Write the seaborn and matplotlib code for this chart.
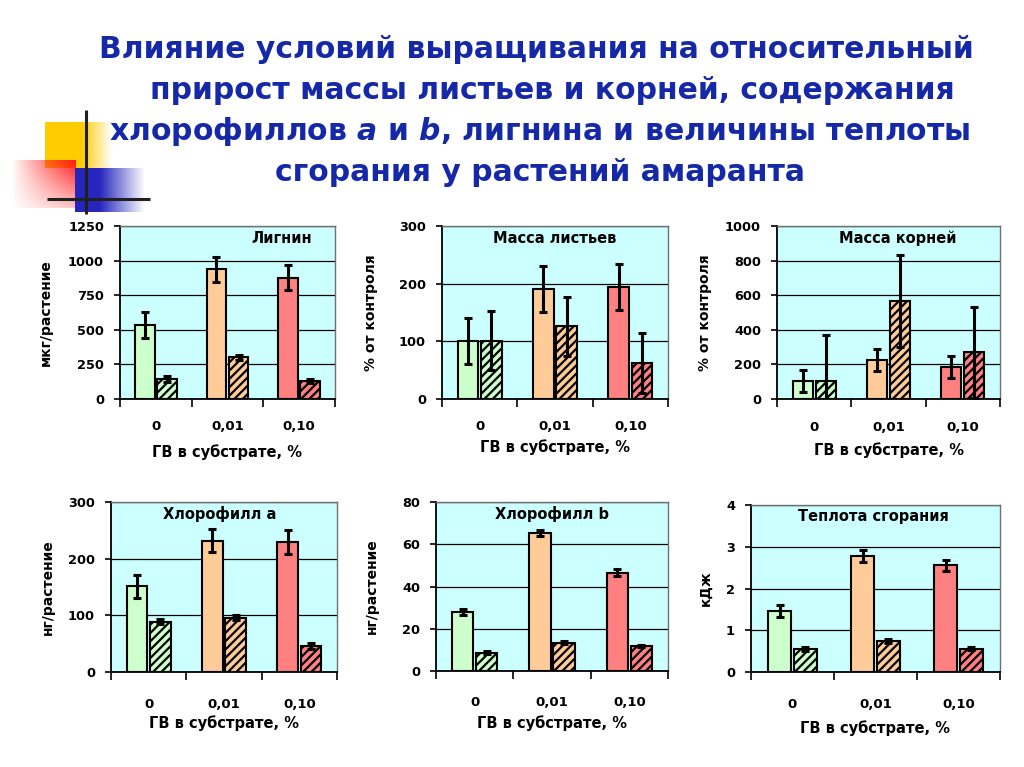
import numpy as np
import pandas as pd
import matplotlib
matplotlib.use('Agg')
import matplotlib.pyplot as plt
import seaborn as sns

# ---------------- data ----------------
categories = ['0', '0,01', '0,10']
xlabel = 'ГВ в субстрате, %'

lignin_solid = [534, 937, 875]
lignin_solid_err = [92, 90, 90]
lignin_hatch = [144, 303, 130]
lignin_hatch_err = [20, 18, 18]

leaves_solid = [101, 191, 194]
leaves_solid_err = [40, 40, 40]
leaves_hatch = [101, 126, 62]
leaves_hatch_err = [51, 51, 52]

roots_solid = [104, 225, 183]
roots_solid_err = [62, 62, 63]
roots_hatch = [104, 567, 269]
roots_hatch_err = [265, 267, 262]

chla_solid = [151, 232, 229]
chla_solid_err = [20, 20, 21]
chla_hatch = [89, 96, 46]
chla_hatch_err = [5, 5, 5]

chlb_solid = [27.9, 65.4, 46.6]
chlb_solid_err = [1.6, 1.3, 1.5]
chlb_hatch = [8.7, 13.3, 11.9]
chlb_hatch_err = [0.7, 0.7, 0.6]

heat_solid = [1.46, 2.78, 2.56]
heat_solid_err = [0.14, 0.14, 0.13]
heat_hatch = [0.56, 0.75, 0.56]
heat_hatch_err = [0.05, 0.05, 0.04]

bar_colors = ['#CCFFCC', '#FFCC99', '#FF8080']

title_lines = ['Влияние условий выращивания на относительный',
               'прирост массы листьев и корней, содержания',
               r'хлорофиллов $\mathbfit{a}$ и $\mathbfit{b}$, лигнина и величины теплоты',
               'сгорания у растений амаранта']

panels = [
    dict(title='Лигнин', ylabel='мкг/растение', solid=lignin_solid, solid_err=lignin_solid_err,
         hatch=lignin_hatch, hatch_err=lignin_hatch_err, ymax=1250, yticks=[0, 250, 500, 750, 1000, 1250],
         box=(120, 335, 226, 399), title_x=0.75, ylab_px=53, tick_pad=15, xlab_px=452),
    dict(title='Масса листьев', ylabel='% от контроля', solid=leaves_solid, solid_err=leaves_solid_err,
         hatch=leaves_hatch, hatch_err=leaves_hatch_err, ymax=300, yticks=[0, 100, 200, 300],
         box=(442, 668, 226, 399), title_x=0.5, ylab_px=378, tick_pad=15, xlab_px=447),
    dict(title='Масса корней', ylabel='% от контроля', solid=roots_solid, solid_err=roots_solid_err,
         hatch=roots_hatch, hatch_err=roots_hatch_err, ymax=1000, yticks=[0, 200, 400, 600, 800, 1000],
         box=(777, 1000, 226, 399), title_x=0.54, ylab_px=712, tick_pad=16, xlab_px=450),
    dict(title='Хлорофилл а', ylabel='нг/растение', solid=chla_solid, solid_err=chla_solid_err,
         hatch=chla_hatch, hatch_err=chla_hatch_err, ymax=300, yticks=[0, 100, 200, 300],
         box=(111, 337, 502, 672), title_x=0.48, ylab_px=55, tick_pad=19, xlab_px=723),
    dict(title='Хлорофилл b', ylabel='нг/растение', solid=chlb_solid, solid_err=chlb_solid_err,
         hatch=chlb_hatch, hatch_err=chlb_hatch_err, ymax=80, yticks=[0, 20, 40, 60, 80],
         box=(436, 668, 502, 671), title_x=0.5, ylab_px=379, tick_pad=18, xlab_px=723),
    dict(title='Теплота сгорания', ylabel='кДж', solid=heat_solid, solid_err=heat_solid_err,
         hatch=heat_hatch, hatch_err=heat_hatch_err, ymax=4, yticks=[0, 1, 2, 3, 4],
         box=(751, 1000, 505, 672), title_x=0.49, ylab_px=713, tick_pad=19, xlab_px=728),
]

# ---------------- style ----------------
sns.set_theme(style='white')
plt.rcParams['font.family'] = ['DejaVu Sans']
plt.rcParams['font.weight'] = 'bold'
plt.rcParams['axes.labelweight'] = 'bold'
plt.rcParams['text.color'] = 'black'
plt.rcParams['axes.labelcolor'] = 'black'
plt.rcParams['xtick.color'] = 'black'
plt.rcParams['ytick.color'] = 'black'
plt.rcParams['hatch.linewidth'] = 1.6
plt.rcParams['mathtext.fontset'] = 'custom'
plt.rcParams['mathtext.rm'] = 'DejaVu Sans:bold'
plt.rcParams['mathtext.bf'] = 'DejaVu Sans:bold'
plt.rcParams['mathtext.bfit'] = 'DejaVu Sans:italic:bold'

W, H = 1024, 767
fig = plt.figure(figsize=(W / 100, H / 100), dpi=100)
fig.patch.set_facecolor('white')

# ---------------- decoration (top-left) ----------------
deco = fig.add_axes([0, 0, 1, 1], zorder=-5)
deco.set_axis_off()


def grad_rect(ax, x0, x1, y0, y1, rgb, alpha_fn):
    nx, ny = 120, 80
    xs = np.linspace(x0, x1, nx)
    ys = np.linspace(y0, y1, ny)
    X, Y = np.meshgrid(xs, ys)
    A = np.clip(alpha_fn(X, Y), 0, 1)
    img = np.zeros((ny, nx, 4))
    img[..., 0], img[..., 1], img[..., 2] = rgb
    img[..., 3] = A
    ax.imshow(img, extent=(x0, x1, y1, y0), origin='upper', aspect='auto', interpolation='bilinear')


grad_rect(deco, 45, 112, 122, 168, (1.0, 0.8, 0.0), lambda X, Y: (112 - X) / (112 - 82))
grad_rect(deco, 12, 76, 160, 208, (1.0, 0.1, 0.1),
          lambda X, Y: ((X - 12) / 64) ** 0.9 * (1 - 0.75 * (Y - 160) / 48))
grad_rect(deco, 75, 145, 168, 212, (0.15, 0.15, 0.75), lambda X, Y: (145 - X) / (145 - 100))
deco.plot([86, 86], [110, 214], color='#202020', lw=2.2, solid_capstyle='butt')
deco.plot([47, 150], [199, 199], color='#202020', lw=2.2, solid_capstyle='butt')
deco.set_xlim(0, W)
deco.set_ylim(H, 0)

# ---------------- title ----------------
title_centers = [536, 552, 540, 540]
title_baselines = [58, 99, 140, 181]
for line, cx, by in zip(title_lines, title_centers, title_baselines):
    fig.text(cx / W, 1 - by / H, line, ha='center', va='baseline', fontsize=21.5,
             fontweight='bold', color='#1428A8')

# ---------------- panels ----------------
for p in panels:
    x0, x1, y0, y1 = p['box']
    ax = fig.add_axes([x0 / W, 1 - y1 / H, (x1 - x0) / W, (y1 - y0) / H])
    df = pd.DataFrame({
        'conc': categories * 2,
        'group': ['solid'] * 3 + ['hatched'] * 3,
        'value': list(p['solid']) + list(p['hatch']),
    })
    sns.barplot(data=df, x='conc', y='value', hue='group', order=categories,
                hue_order=['solid', 'hatched'], width=0.62, gap=0.12, errorbar=None,
                legend=False, saturation=1, ax=ax, zorder=3)
    bars = sorted(ax.patches, key=lambda r: r.get_x())
    errs = []
    vals = []
    for i, c in enumerate(categories):
        errs += [p['solid_err'][i], p['hatch_err'][i]]
        vals += [p['solid'][i], p['hatch'][i]]
    centers = []
    for j, bar in enumerate(bars):
        ci = j // 2
        bar.set_facecolor(bar_colors[ci])
        bar.set_edgecolor('black')
        bar.set_linewidth(1.5)
        if j % 2 == 1:
            bar.set_hatch('////')
        centers.append(bar.get_x() + bar.get_width() / 2)
    ax.errorbar(centers, vals, yerr=errs, fmt='none', ecolor='black', elinewidth=2.2,
                capsize=3, capthick=2.2, zorder=4)

    ax.set_facecolor('#CCFFFF')
    ax.set_xlim(-0.5, 2.5)
    ax.set_ylim(0, p['ymax'])
    ax.set_yticks(p['yticks'])
    ax.yaxis.grid(True, color='black', lw=0.9)
    ax.set_axisbelow(True)
    for s in ['top', 'right']:
        ax.spines[s].set_color('#707070')
        ax.spines[s].set_linewidth(1.0)
    for s in ['left', 'bottom']:
        ax.spines[s].set_color('black')
        ax.spines[s].set_linewidth(1.3)
    ax.set_xticks(range(len(categories)))
    ax.set_xticklabels(categories)
    ax.set_xticks([-0.5, 0.5, 1.5, 2.5], minor=True)
    ax.tick_params(axis='x', which='major', length=0, pad=p['tick_pad'], labelsize=9.5)
    ax.tick_params(axis='x', which='minor', length=6, width=1.2, direction='out', color='black',
                   bottom=True)
    ax.tick_params(axis='y', which='major', length=4, width=1.2, direction='out', color='black',
                   left=True, labelsize=9.3, pad=7.5)
    for lab in ax.get_xticklabels() + ax.get_yticklabels():
        lab.set_fontweight('bold')
    ax.set_xlabel('')
    ax.set_ylabel(p['ylabel'], fontsize=10, fontweight='bold')
    ax.yaxis.set_label_coords((p['ylab_px'] - x0) / (x1 - x0), 0.5)
    ax.text(p['title_x'], 0.93, p['title'], transform=ax.transAxes, ha='center', va='center',
            fontsize=10.5, fontweight='bold', color='black')
    fig.text(((x0 + x1) / 2) / W, 1 - p['xlab_px'] / H, xlabel, ha='center', va='center',
             fontsize=10.5, fontweight='bold')

fig.savefig('out.png', dpi=100, facecolor='white')
